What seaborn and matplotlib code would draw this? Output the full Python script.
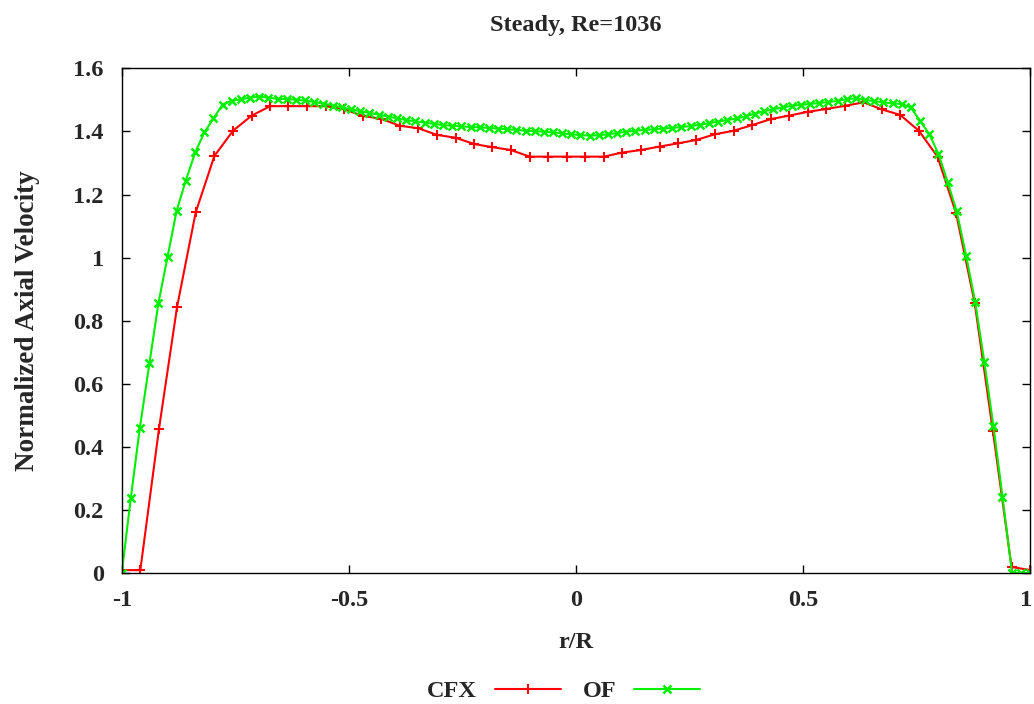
import numpy as np
import pandas as pd
import seaborn as sns
import matplotlib
matplotlib.use("Agg")
import matplotlib.pyplot as plt
import matplotlib.transforms as mtransforms

# CFX profile (50 samples across the pipe)
cfx_r = [-1.000, -0.959, -0.918, -0.878, -0.837, -0.796, -0.755, -0.714, -0.673, -0.633,
         -0.592, -0.551, -0.510, -0.469, -0.429, -0.388, -0.347, -0.306, -0.265, -0.224,
         -0.184, -0.143, -0.102, -0.061, -0.020, 0.020, 0.061, 0.102, 0.143, 0.184,
         0.224, 0.265, 0.306, 0.347, 0.388, 0.429, 0.469, 0.510, 0.551, 0.592,
         0.633, 0.673, 0.714, 0.755, 0.796, 0.837, 0.878, 0.918, 0.959, 1.000]
cfx_u = [0.010, 0.010, 0.457, 0.845, 1.144, 1.322, 1.402, 1.450, 1.480, 1.480,
         1.480, 1.480, 1.470, 1.449, 1.440, 1.418, 1.410, 1.389, 1.380, 1.360,
         1.350, 1.341, 1.320, 1.320, 1.320, 1.320, 1.320, 1.333, 1.341, 1.352,
         1.362, 1.373, 1.391, 1.402, 1.420, 1.439, 1.450, 1.462, 1.471, 1.481,
         1.492, 1.470, 1.452, 1.402, 1.320, 1.140, 0.855, 0.450, 0.020, 0.010]

# OpenFOAM profile (100 samples)
of_r = [-1.000, -0.980, -0.960, -0.939, -0.919, -0.899, -0.879, -0.859, -0.838, -0.818,
        -0.798, -0.778, -0.758, -0.737, -0.717, -0.697, -0.677, -0.657, -0.636, -0.616,
        -0.596, -0.576, -0.556, -0.535, -0.515, -0.495, -0.475, -0.455, -0.434, -0.414,
        -0.394, -0.374, -0.354, -0.333, -0.313, -0.293, -0.273, -0.253, -0.232, -0.212,
        -0.192, -0.172, -0.152, -0.131, -0.111, -0.091, -0.071, -0.051, -0.030, -0.010,
        0.010, 0.030, 0.051, 0.071, 0.091, 0.111, 0.131, 0.152, 0.172, 0.192,
        0.212, 0.232, 0.253, 0.273, 0.293, 0.313, 0.333, 0.354, 0.374, 0.394,
        0.414, 0.434, 0.455, 0.475, 0.495, 0.515, 0.535, 0.556, 0.576, 0.596,
        0.616, 0.636, 0.657, 0.677, 0.697, 0.717, 0.737, 0.758, 0.778, 0.798,
        0.818, 0.838, 0.859, 0.879, 0.899, 0.919, 0.939, 0.960, 0.980, 1.000]
of_u = [0.000, 0.238, 0.461, 0.665, 0.857, 1.003, 1.149, 1.244, 1.334, 1.397,
        1.441, 1.485, 1.497, 1.502, 1.507, 1.510, 1.507, 1.503, 1.503, 1.500,
        1.498, 1.493, 1.488, 1.482, 1.476, 1.470, 1.464, 1.459, 1.453, 1.447,
        1.442, 1.436, 1.432, 1.428, 1.424, 1.420, 1.418, 1.416, 1.414, 1.413,
        1.411, 1.409, 1.407, 1.405, 1.402, 1.401, 1.399, 1.397, 1.394, 1.391,
        1.388, 1.387, 1.388, 1.391, 1.395, 1.399, 1.402, 1.405, 1.407, 1.409,
        1.411, 1.414, 1.417, 1.421, 1.426, 1.431, 1.436, 1.441, 1.448, 1.456,
        1.464, 1.470, 1.476, 1.481, 1.484, 1.487, 1.490, 1.493, 1.497, 1.502,
        1.505, 1.500, 1.496, 1.492, 1.489, 1.487, 1.476, 1.433, 1.391, 1.329,
        1.241, 1.148, 1.006, 0.859, 0.670, 0.467, 0.243, 0.002, 0.000, 0.000]

x_ticks = [-1, -0.5, 0, 0.5, 1]
x_ticklabels = ["-1", "-0.5", "0", "0.5", "1"]
y_ticks = [0, 0.2, 0.4, 0.6, 0.8, 1.0, 1.2, 1.4, 1.6]
y_ticklabels = ["0", "0.2", "0.4", "0.6", "0.8", "1", "1.2", "1.4", "1.6"]

cfx_df = pd.DataFrame({"r": cfx_r, "u": cfx_u})
of_df = pd.DataFrame({"r": of_r, "u": of_u})

red = "#ff0000"
green = "#00ee00"
fs = 17.5

sns.set_style("ticks")
plt.rcParams["font.family"] = ["Liberation Serif", "DejaVu Serif"]
plt.rcParams["font.weight"] = "bold"
plt.rcParams["axes.labelweight"] = "bold"
plt.rcParams["axes.titleweight"] = "bold"

fig = plt.figure(figsize=(10.34, 7.04), dpi=100)
ax = fig.add_axes([0.1177, 0.1857, 0.8786, 0.7173])

sns.lineplot(data=cfx_df, x="r", y="u", ax=ax, color=red, marker="+",
             markersize=7, markeredgewidth=1.5, markeredgecolor=red,
             linewidth=1.5, label="CFX", sort=False)
sns.lineplot(data=of_df, x="r", y="u", ax=ax, color=green, marker="x",
             markersize=6, markeredgewidth=1.8, markeredgecolor=green,
             linewidth=1.5, label="OF", sort=False)

ax.set_xlim(-1, 1)
ax.set_ylim(0, 1.6)
ax.set_xticks(x_ticks)
ax.set_xticklabels(x_ticklabels)
ax.set_yticks(y_ticks)
ax.set_yticklabels(y_ticklabels)
ax.tick_params(direction="in", length=6, width=1, labelsize=fs,
               top=True, right=True, color="black")
ax.tick_params(axis="y", pad=13)
ax.tick_params(axis="x", pad=12)
for s in ax.spines.values():
    s.set_linewidth(1)
    s.set_color("black")

# keep the last x tick label inside the canvas
last = ax.get_xticklabels()[-1]
last.set_transform(last.get_transform() +
                   mtransforms.ScaledTranslation(-4 / 100, 0, fig.dpi_scale_trans))

ax.set_xlabel("r/R", fontsize=fs, labelpad=15)
ax.set_ylabel("Normalized Axial Velocity", fontsize=19.5, labelpad=24)
ax.set_title("Steady, Re=1036", fontsize=fs, pad=27)

ax.get_legend().remove()
handles, labels = ax.get_legend_handles_labels()
fig.legend(handles, labels, loc="center", bbox_to_anchor=(0.545, 0.018), ncol=2,
           frameon=False, fontsize=fs, markerfirst=False, handlelength=2.7,
           handletextpad=0.75, columnspacing=0.9)

fig.savefig("out.png", dpi=100)
